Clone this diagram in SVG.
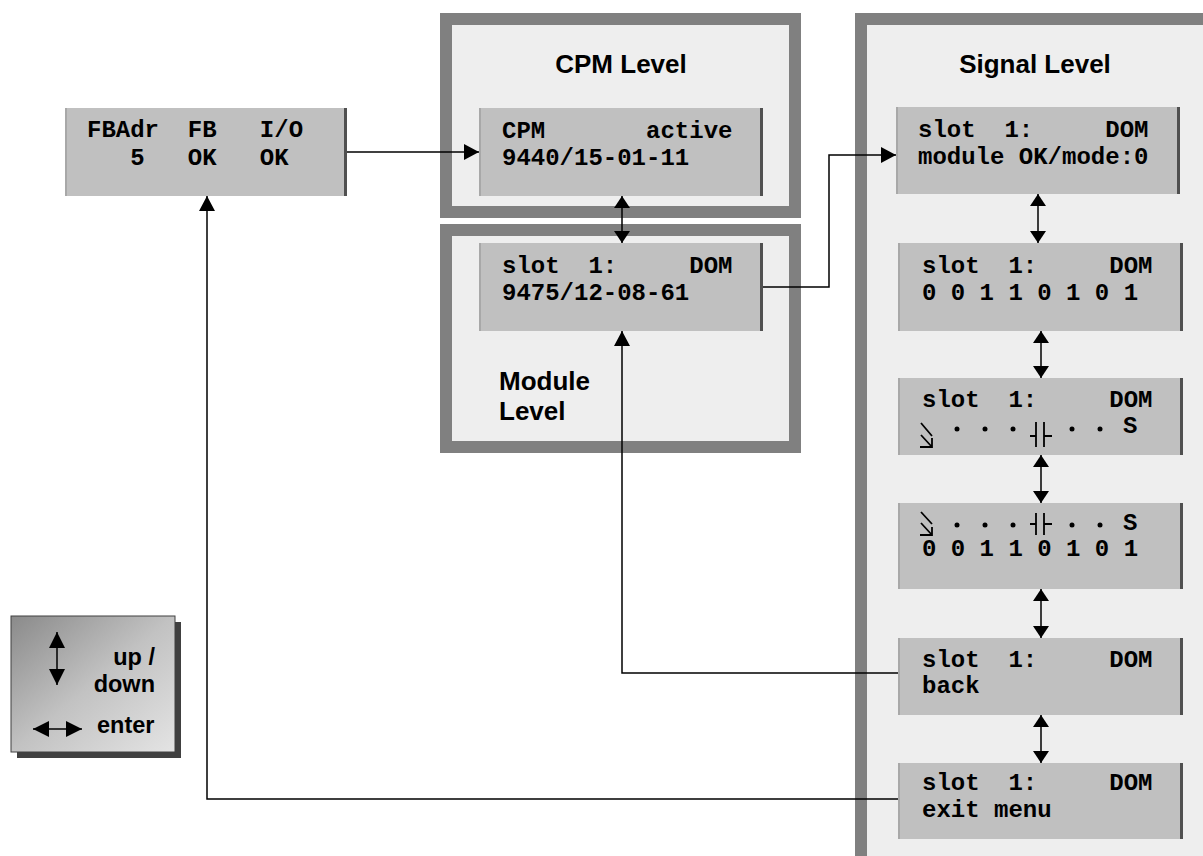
<svg xmlns="http://www.w3.org/2000/svg" width="1203" height="856" viewBox="0 0 1203 856">
<style>
.panel{fill:#eeeeee;stroke:#808080;stroke-width:12}
.box{fill:#c0c0c0}
.ledge{fill:#a8a8a8}
.redge{fill:#505050}
.mono{font-family:"Liberation Mono","Courier New",monospace;font-weight:bold;font-size:24px;fill:#000;white-space:pre}
.title{font-family:"Liberation Sans",Arial,sans-serif;font-weight:bold;font-size:26px;fill:#000}
.leg{font-family:"Liberation Sans",Arial,sans-serif;font-weight:bold;font-size:23.5px;fill:#000}
.conn{fill:none;stroke:#000;stroke-width:1.5}
.sym{fill:none;stroke:#000;stroke-width:1.8}
.dot{fill:#000}
</style>
<defs>
<marker id="ah" markerUnits="userSpaceOnUse" viewBox="0 0 15 16" refX="15" refY="8" markerWidth="15" markerHeight="16" orient="auto-start-reverse">
<path d="M0,0 L15,8 L0,16 Z" fill="#000"/>
</marker>
<marker id="dh" markerUnits="userSpaceOnUse" viewBox="0 0 12 16" refX="12" refY="8" markerWidth="12" markerHeight="16" orient="auto-start-reverse">
<path d="M0,0 L12,8 L0,16 Z" fill="#000"/>
</marker>
<marker id="lh" markerUnits="userSpaceOnUse" viewBox="0 0 16 16" refX="16" refY="8" markerWidth="16" markerHeight="16" orient="auto-start-reverse">
<path d="M0,0 L16,8 L0,16 Z" fill="#000"/>
</marker>
<linearGradient id="lg" x1="0" y1="0" x2="1" y2="1">
<stop offset="0" stop-color="#8a8a8a"/>
<stop offset="0.5" stop-color="#c2c2c2"/>
<stop offset="1" stop-color="#e4e4e4"/>
</linearGradient>
</defs>
<rect width="1203" height="856" fill="#ffffff"/>

<g id="cpm-level">
<rect class="panel" x="446" y="19" width="349" height="193"/>
<text class="title" x="621" y="73" text-anchor="middle">CPM Level</text>
</g>
<g id="module-level">
<rect class="panel" x="446" y="230" width="349" height="217"/>
<text class="title" x="499" y="390">Module</text>
<text class="title" x="499" y="420">Level</text>
</g>
<g id="signal-level">
<rect class="panel" x="861" y="19" width="360" height="846"/>
<text class="title" x="1035" y="73" text-anchor="middle">Signal Level</text>
</g>

<g id="fb-box">
<rect class="box" x="65" y="108" width="282" height="88"/>
<rect class="ledge" x="65" y="108" width="2" height="88"/>
<rect class="redge" x="344" y="108" width="3" height="88"/>
<text class="mono" x="87" y="137" xml:space="preserve">FBAdr  FB   I/O</text>
<text class="mono" x="87" y="165" xml:space="preserve">   5   OK   OK</text>
</g>

<g id="cpm-box">
<rect class="box" x="479" y="108" width="284" height="88"/>
<rect class="ledge" x="479" y="108" width="2" height="88"/>
<rect class="redge" x="760" y="108" width="3" height="88"/>
<text class="mono" x="502" y="138" xml:space="preserve">CPM       active</text>
<text class="mono" x="502" y="165">9440/15-01-11</text>
</g>

<g id="module-box">
<rect class="box" x="479" y="243" width="284" height="88"/>
<rect class="ledge" x="479" y="243" width="2" height="88"/>
<rect class="redge" x="760" y="243" width="3" height="88"/>
<text class="mono" x="502" y="273" xml:space="preserve">slot  1:     DOM</text>
<text class="mono" x="502" y="300">9475/12-08-61</text>
</g>

<g id="sig1">
<rect class="box" x="896" y="107" width="284" height="87"/>
<rect class="ledge" x="896" y="107" width="2" height="87"/>
<rect class="redge" x="1177" y="107" width="3" height="87"/>
<text class="mono" x="918" y="137" xml:space="preserve">slot  1:     DOM</text>
<text class="mono" x="918" y="164">module OK/mode:0</text>
</g>

<g id="sig2">
<rect class="box" x="898" y="243" width="285" height="88"/>
<rect class="ledge" x="898" y="243" width="2" height="88"/>
<rect class="redge" x="1180" y="243" width="3" height="88"/>
<text class="mono" x="922" y="273" xml:space="preserve">slot  1:     DOM</text>
<text class="mono" x="922" y="300" xml:space="preserve">0 0 1 1 0 1 0 1</text>
</g>

<g id="sig3">
<rect class="box" x="898" y="378" width="285" height="77"/>
<rect class="ledge" x="898" y="378" width="2" height="77"/>
<rect class="redge" x="1180" y="378" width="3" height="77"/>
<text class="mono" x="922" y="407" xml:space="preserve">slot  1:     DOM</text>
<path class="sym" d="M921,423 L932,436 M921,435 L932,447 M920,447 H932 V438"/>
<circle class="dot" cx="957" cy="429" r="2.5"/>
<circle class="dot" cx="985" cy="429" r="2.5"/>
<circle class="dot" cx="1013" cy="429" r="2.5"/>
<path class="sym" d="M1030,436 H1036 M1036,422 V447 M1044,422 V447 M1044,436 H1052"/>
<circle class="dot" cx="1072" cy="429" r="2.5"/>
<circle class="dot" cx="1100" cy="429" r="2.5"/>
<text class="mono" x="1123" y="433">S</text>
</g>

<g id="sig4">
<rect class="box" x="898" y="503" width="285" height="86"/>
<rect class="ledge" x="898" y="503" width="2" height="86"/>
<rect class="redge" x="1180" y="503" width="3" height="86"/>
<path class="sym" d="M921,512 L932,524 M921,523 L932,535 M920,535 H932 V527"/>
<circle class="dot" cx="957" cy="525" r="2.5"/>
<circle class="dot" cx="985" cy="525" r="2.5"/>
<circle class="dot" cx="1013" cy="525" r="2.5"/>
<path class="sym" d="M1030,524 H1036 M1036,513 V535 M1044,513 V535 M1044,524 H1052"/>
<circle class="dot" cx="1072" cy="525" r="2.5"/>
<circle class="dot" cx="1100" cy="525" r="2.5"/>
<text class="mono" x="1123" y="530">S</text>
<text class="mono" x="922" y="556" xml:space="preserve">0 0 1 1 0 1 0 1</text>
</g>

<g id="sig5">
<rect class="box" x="898" y="638" width="285" height="77"/>
<rect class="ledge" x="898" y="638" width="2" height="77"/>
<rect class="redge" x="1180" y="638" width="3" height="77"/>
<text class="mono" x="922" y="667" xml:space="preserve">slot  1:     DOM</text>
<text class="mono" x="922" y="693">back</text>
</g>

<g id="sig6">
<rect class="box" x="898" y="763" width="285" height="76"/>
<rect class="ledge" x="898" y="763" width="2" height="76"/>
<rect class="redge" x="1180" y="763" width="3" height="76"/>
<text class="mono" x="922" y="790" xml:space="preserve">slot  1:     DOM</text>
<text class="mono" x="922" y="817">exit menu</text>
</g>

<g id="legend">
<rect x="17" y="622" width="164" height="136" fill="#404040"/>
<rect x="11" y="616" width="164" height="136" fill="url(#lg)" stroke="#404040" stroke-width="1"/>
<line class="conn" x1="57" y1="632" x2="57" y2="685" marker-start="url(#lh)" marker-end="url(#lh)"/>
<line class="conn" x1="33" y1="729" x2="82" y2="729" marker-start="url(#lh)" marker-end="url(#lh)"/>
<text class="leg" x="155" y="665" text-anchor="end">up /</text>
<text class="leg" x="155" y="692" text-anchor="end">down</text>
<text class="leg" x="97" y="733">enter</text>
</g>

<g id="connectors">
<path class="conn" d="M347,152 H479" marker-end="url(#ah)"/>
<path class="conn" d="M763,287 H829 V155 H896" marker-end="url(#ah)"/>
<path class="conn" d="M898,673 H622 V331" marker-end="url(#ah)"/>
<path class="conn" d="M898,799 H207 V196" marker-end="url(#ah)"/>
<path class="conn" d="M622,196 V243" marker-start="url(#dh)" marker-end="url(#dh)"/>
<path class="conn" d="M1038,194 V243" marker-start="url(#dh)" marker-end="url(#dh)"/>
<path class="conn" d="M1041,331 V378" marker-start="url(#dh)" marker-end="url(#dh)"/>
<path class="conn" d="M1041,455 V503" marker-start="url(#dh)" marker-end="url(#dh)"/>
<path class="conn" d="M1041,589 V638" marker-start="url(#dh)" marker-end="url(#dh)"/>
<path class="conn" d="M1041,715 V763" marker-start="url(#dh)" marker-end="url(#dh)"/>
</g>
</svg>
